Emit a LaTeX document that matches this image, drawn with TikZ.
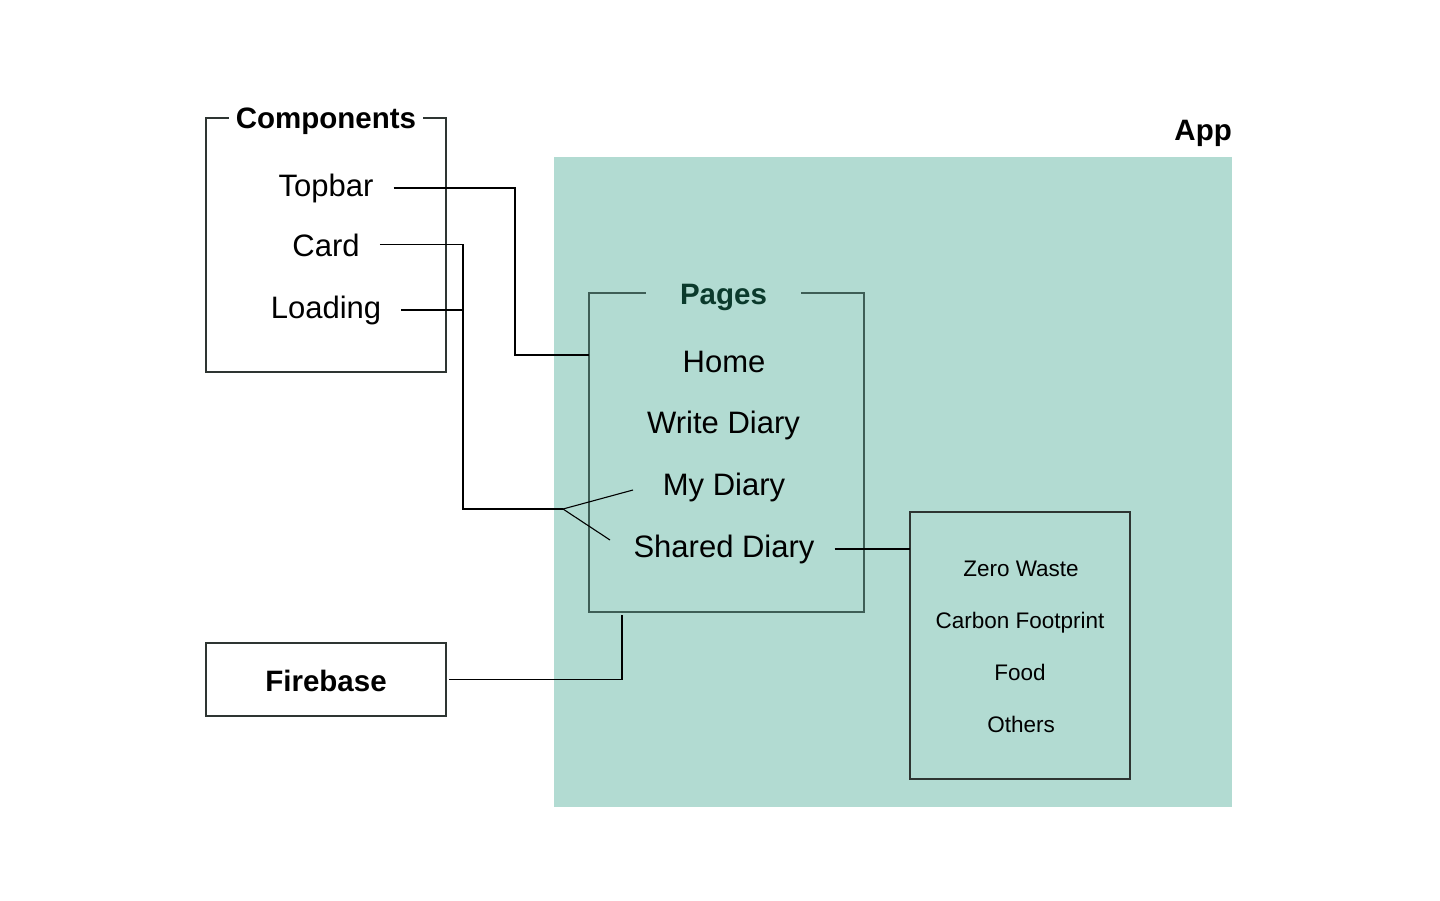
\documentclass[tikz,border=0pt]{standalone}
\usepackage{fontspec}
\setmainfont{Liberation Sans}
\definecolor{appfill}{HTML}{B2DBD2}
\definecolor{pageline}{HTML}{3E5E56}
\definecolor{pagetext}{HTML}{0B3A2C}
\definecolor{boxline}{HTML}{2E3532}
\begin{document}
\begin{tikzpicture}[x=1pt,y=-1pt,
  big/.style={font=\fontsize{31}{36}\selectfont, inner sep=0pt},
  bigb/.style={font=\bfseries\fontsize{29.5}{34}\selectfont, inner sep=0pt},
  small/.style={font=\fontsize{22.5}{27}\selectfont, inner sep=0pt},
  item/.style={big, anchor=base, inner xsep=20pt},
  subitem/.style={small, anchor=base},
  frame/.style={inner sep=0pt, outer sep=0pt},
  conn/.style={draw=black, line width=1.1pt},
  boxedge/.style={draw=boxline, line width=1.2pt}
]
\useasboundingbox (0,0) rectangle (1440,900);

% App area
\node[frame, fill=appfill, minimum width=678pt, minimum height=650pt] (app) at (893,482) {};
\node[bigb, anchor=base east] (applabel) at (1232,140) {App};

% Boxes (geometry)
\node[frame, minimum width=240pt, minimum height=254pt] (comp) at (326,245) {};
\node[frame, minimum width=275pt, minimum height=319pt] (pages) at (726.5,452.5) {};
\node[frame, draw=boxline, line width=1.2pt, minimum width=220pt, minimum height=267pt] (sub) at (1020,645.5) {};
\node[frame, draw=boxline, line width=1.2pt, minimum width=240pt, minimum height=73pt] (fire) at (326,679.5) {};
\node[bigb] (firelabel) at (326,681) {Firebase};

% Components frame with title gap
\node[bigb, anchor=base, inner xsep=7pt] (comptitle) at (326,128.5) {Components};
\draw[boxedge] (comptitle.west |- comp.north) -- (comp.north west) -- (comp.south west)
  -- (comp.south east) -- (comp.north east) -- (comptitle.east |- comp.north);

% Pages frame with title gap
\node[bigb, anchor=base, inner xsep=34pt, text=pagetext] (pagestitle) at (723.5,304) {Pages};
\draw[draw=pageline, line width=1.2pt] (pagestitle.west |- pages.north) -- (pages.north west) -- (pages.south west)
  -- (pages.south east) -- (pages.north east) -- (pagestitle.east |- pages.north);

% Component items
\node[item] (topbar) at (326,196) {Topbar};
\node[item] (card) at (326,256) {Card};
\node[item] (loading) at (326,318) {Loading};

% Page items
\node[big, anchor=base] (home) at (724,372) {Home};
\node[big, anchor=base] (write) at (723.5,433) {Write Diary};
\node[big, anchor=base] (mydiary) at (724,495) {My Diary};
\node[item] (shared) at (724,557) {Shared Diary};

% Sub items
\node[subitem] (zero) at (1021,576) {Zero Waste};
\node[subitem] (carbon) at (1020,628) {Carbon Footprint};
\node[subitem] (food) at (1020,680) {Food};
\node[subitem] (others) at (1021,732) {Others};

% Bend coordinates
\coordinate (topbend) at (515,355);
\coordinate (cardbend) at (463,509);
\coordinate (fork) at (563,509);
\coordinate (myend) at (633,490);
\coordinate (sharedend) at (610,540);
\coordinate (firebend) at (622,615);

% Connectors
\draw[conn] (topbar.east) -| (topbend) -- (topbend -| pages.west);
\draw[conn] (card.east) -| (cardbend) -- (fork);
\draw[conn] (loading.east) -- (loading.east -| cardbend);
\draw[conn] (fork) -- (myend);
\draw[conn] (fork) -- (sharedend);
\draw[conn] (shared.east) -- (shared.east -| sub.west);
\draw[conn] ([xshift=3pt]fire.east) -| (firebend);
\end{tikzpicture}
\end{document}
